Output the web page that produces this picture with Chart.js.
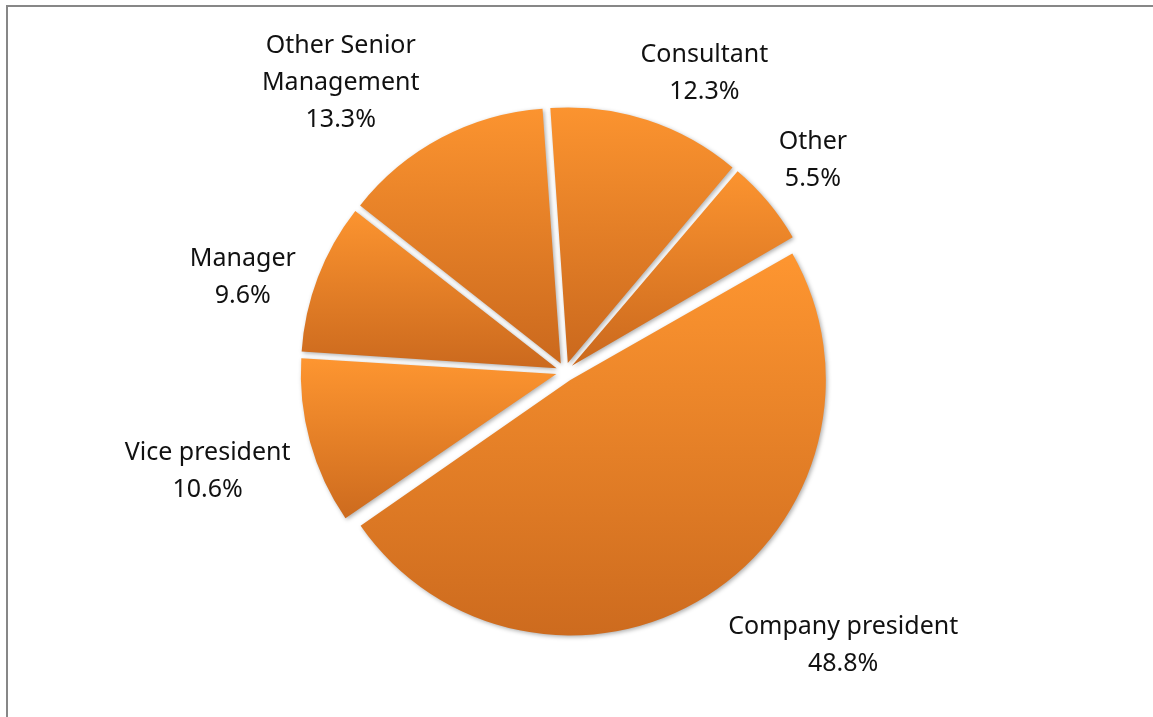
<!DOCTYPE html>
<html>
<head>
<meta charset="utf-8">
<script src="https://cdn.jsdelivr.net/npm/chart.js@4"></script>
<style>
  html, body { margin: 0; padding: 0; background: #fff; overflow: hidden; }
  #wrap { position: relative; width: 1153px; height: 717px; }
  #frame { position: absolute; left: 6px; top: 5px; width: 1200px; height: 800px;
           border-left: 2px solid #878787; border-top: 2px solid #878787; }
  canvas { position: absolute; left: 0; top: 0; }
</style>
</head>
<body>
<div id="wrap">
  <div id="frame"></div>
  <canvas id="pie" width="1153" height="717"></canvas>
</div>
<script>
// data
const categories = ['Company president', 'Vice president', 'Manager', ['Other Senior', 'Management'], 'Consultant', 'Other'];
const shares = [48.8, 10.6, 9.6, 13.3, 12.3, 5.5];

// slice explosion (chart.js offset, px*4) and small label placement tweaks
const explode = [40, 36, 36, 36, 36, 36];
const labelNudge = [[14, 6], [-6, 16], [-9, 18], [-15, 6], [-11, 2], [0, -9]];

const topColor = '#fd9530';
const bottomColor = '#cc6a1e';
const startDeg = 60;
const pieRadius = 255.5;

// vertical extent of one slice, so each gets its own top->bottom gradient
function sliceGradient(c) {
    const chart = c.chart;
    const area = chart.chartArea;
    if (!area) return topColor;
    const total = shares.reduce((a, b) => a + b, 0);
    let before = 0;
    for (let k = 0; k < c.dataIndex; k++) before += shares[k];
    const a0 = (startDeg - 90) * Math.PI / 180 + before / total * 2 * Math.PI;
    const a1 = a0 + shares[c.dataIndex] / total * 2 * Math.PI;
    const mid = (a0 + a1) / 2;
    const cy = (area.top + area.bottom) / 2 + Math.sin(mid) * explode[c.dataIndex] / 4;
    const ys = [cy, cy + Math.sin(a0) * pieRadius, cy + Math.sin(a1) * pieRadius];
    for (const t of [-Math.PI / 2, Math.PI / 2, 1.5 * Math.PI, 2.5 * Math.PI]) {
        if (t > a0 && t < a1) ys.push(cy + Math.sin(t) * pieRadius);
    }
    const y0 = Math.min(...ys), y1 = Math.max(...ys);
    const g = chart.ctx.createLinearGradient(0, y0, 0, y1);
    g.addColorStop(0, topColor);
    g.addColorStop(1, bottomColor);
    return g;
}

// chart.js grows an offset arc's radius a little; undo that so all slices stay the same size
const keepRadius = {
    id: 'keepRadius',
    afterDatasetUpdate(chart, args) {
        args.meta.data.forEach(arc => {
            const off = (arc.options.offset || 0) / 4;
            const fix = 1 - Math.sin(Math.min(Math.PI, arc.circumference));
            arc.outerRadius = pieRadius - off * fix;
        });
    }
};

const shadowPlugin = {
    id: 'shadow',
    beforeDatasetsDraw(chart) {
        const ctx = chart.ctx;
        ctx.save();
        ctx.shadowColor = 'rgba(0,0,0,0.32)';
        ctx.shadowBlur = 4;
        ctx.shadowOffsetX = 1.5;
        ctx.shadowOffsetY = 1.5;
    },
    afterDatasetsDraw(chart) {
        chart.ctx.restore();
    }
};

const labelPlugin = {
    id: 'outLabels',
    afterDraw(chart) {
        const ctx = chart.ctx;
        const meta = chart.getDatasetMeta(0);
        const lineH = 37;
        ctx.save();
        ctx.font = '25px "Noto Sans", "Open Sans", sans-serif';
        ctx.fillStyle = '#111';
        ctx.textAlign = 'center';
        ctx.textBaseline = 'middle';
        meta.data.forEach((arc, i) => {
            const mid = (arc.startAngle + arc.endAngle) / 2;
            const dx = Math.cos(mid), dy = Math.sin(mid);
            const r = pieRadius + 14 + explode[i] / 4;
            const px = arc.x + dx * r, py = arc.y + dy * r;
            const name = categories[i];
            const lines = (Array.isArray(name) ? name : [name]).concat([shares[i].toFixed(1) + '%']);
            const w = Math.max(...lines.map(s => ctx.measureText(s).width));
            const h = lines.length * lineH;
            const bx = px + Math.sign(dx) * w / 2 + labelNudge[i][0];
            const by = py + dy * h / 2 + labelNudge[i][1];
            lines.forEach((s, j) => {
                ctx.fillText(s, bx, by - h / 2 + lineH * (j + 0.5));
            });
        });
        ctx.restore();
    }
};

new Chart(document.getElementById('pie'), {
    type: 'pie',
    data: {
        labels: categories,
        datasets: [{
            data: shares,
            backgroundColor: sliceGradient,
            borderWidth: 0,
            offset: explode
        }]
    },
    options: {
        responsive: false,
        animation: false,
        rotation: startDeg,
        radius: pieRadius,
        layout: { padding: { left: 0, right: 23, top: 26, bottom: 0 } },
        plugins: {
            legend: { display: false },
            tooltip: { enabled: false }
        },
        events: []
    },
    plugins: [keepRadius, shadowPlugin, labelPlugin]
});
</script>
</body>
</html>
